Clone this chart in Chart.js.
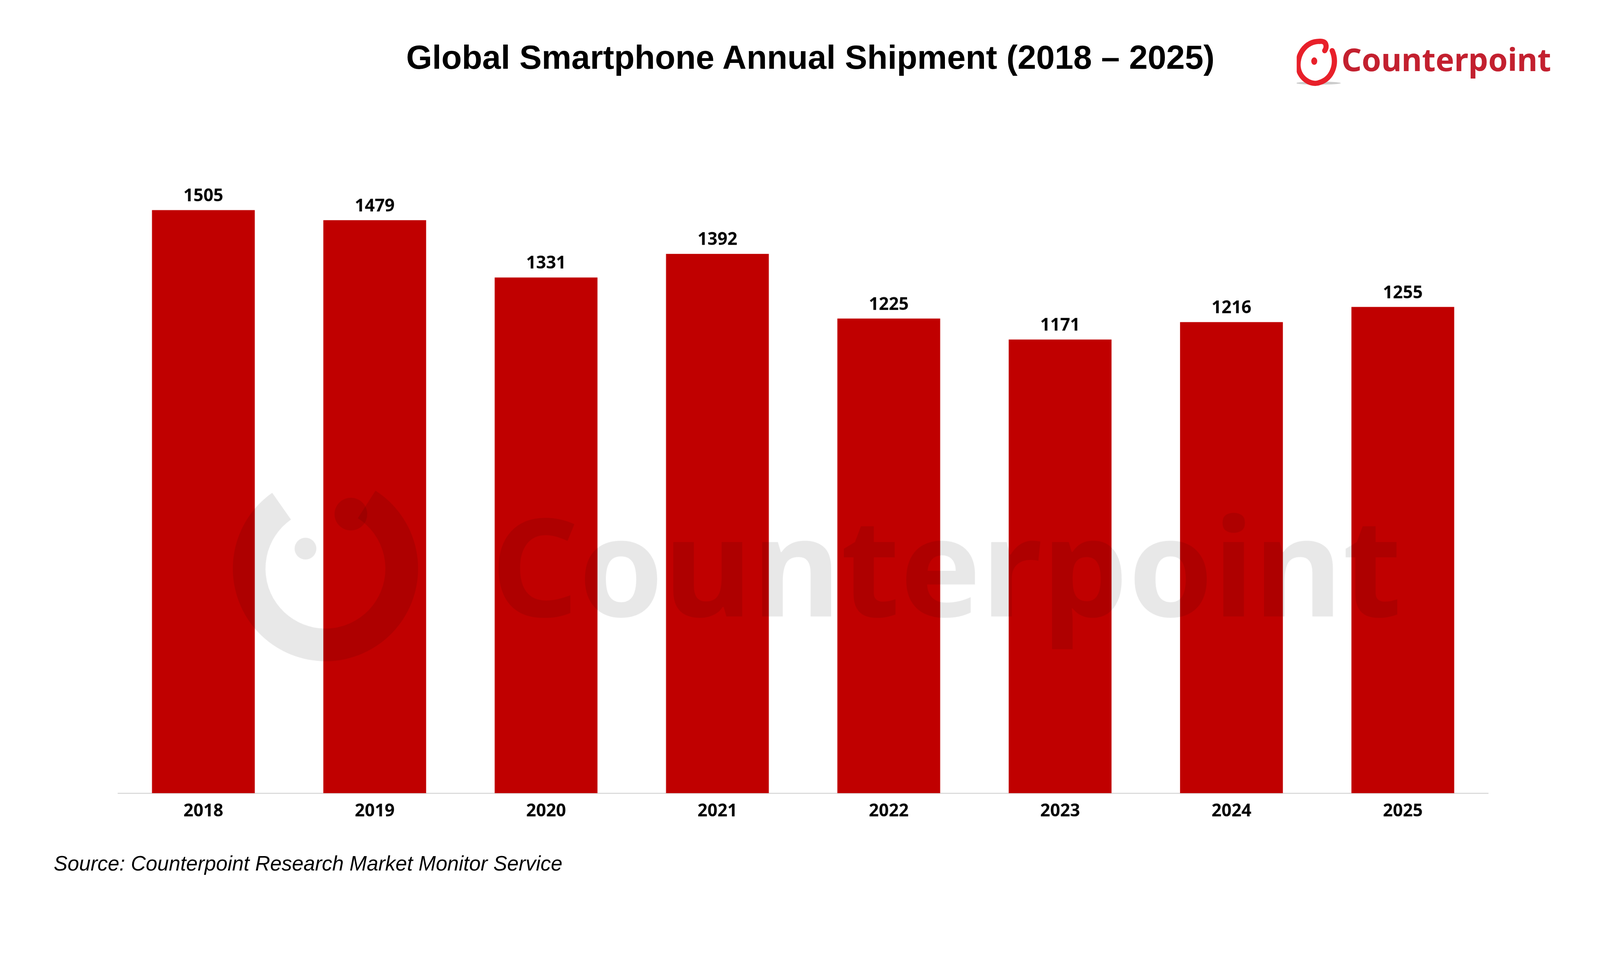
<!DOCTYPE html>
<html><head><meta charset="utf-8">
<script src="https://cdn.jsdelivr.net/npm/chart.js@4"></script>
<style>
html,body{margin:0;padding:0;background:#fff;overflow:hidden}
#stage{position:absolute;left:0;top:0;width:4405px;height:2480px;transform-origin:0 0;font-family:"Liberation Sans",Arial,sans-serif;background:#fff}
#title{position:absolute;left:0;width:4462px;top:105px;text-align:center;font-weight:bold;font-size:92px;color:#000;white-space:nowrap}
#src{position:absolute;left:148px;top:2343px;font-style:italic;font-size:57px;color:#000;white-space:nowrap}
#logo{position:absolute;left:3570px;top:80px;width:740px;height:160px}
#wrap{position:absolute;left:324px;top:400px;width:3774px;height:1883px}
</style></head><body>
<div id="stage">
<div id="title">Global Smartphone Annual Shipment (2018 – 2025)</div>
<svg id="logo" viewBox="0 0 720 150">
<ellipse cx="58" cy="142" rx="60" ry="4" fill="#ccc"/>
<path d="M62 30 C20 30 0 70 4 100 C8 130 40 150 62 140 C95 130 110 90 95 55" fill="none" stroke="#e8202a" stroke-width="14" stroke-linecap="round"/>
<path d="M62 30 C80 28 82 45 75 55" fill="none" stroke="#e8202a" stroke-width="14" stroke-linecap="round"/>
<ellipse cx="47" cy="83" rx="8" ry="10" fill="#e8202a"/>
<text x="120" y="110" font-family="Noto Sans, Open Sans, sans-serif" font-weight="bold" font-size="84" fill="#c3202f">Counterpoint</text>
</svg>
<div id="wrap"><canvas id="c"></canvas></div>
<div id="src">Source: Counterpoint Research Market Monitor Service</div>
</div>
<script>
const categories=["2018","2019","2020","2021","2022","2023","2024","2025"];
const shipments=[1505,1479,1331,1392,1225,1171,1216,1255];
function fit(){const s=Math.min(window.innerWidth/4405,window.innerHeight/2480);document.getElementById('stage').style.transform='scale('+s+')';}
fit();window.addEventListener('resize',fit);
const labelPlugin={id:'lbl',afterDatasetsDraw(ch){const ctx=ch.ctx;const m=ch.getDatasetMeta(0);ctx.save();ctx.font='bold 48px "Noto Sans", "Open Sans", sans-serif';ctx.fillStyle='#000';ctx.textAlign='center';ctx.textBaseline='bottom';m.data.forEach((b,i)=>{ctx.fillText(String(shipments[i]),b.x,b.y-14);});ctx.restore();},
afterDraw(ch){const ctx=ch.ctx;ctx.save();ctx.globalAlpha=0.09;ctx.fillStyle='#000';ctx.strokeStyle='#000';
ctx.lineWidth=90;ctx.beginPath();ctx.arc(896-324,1565-400,210,-1.0,4.1);ctx.stroke();
ctx.beginPath();ctx.arc(896-324+70,1565-400-150,45,0,7);ctx.fill();
ctx.beginPath();ctx.arc(896-324-55,1565-400-55,30,0,7);ctx.fill();
ctx.font='bold 375px "Noto Sans", sans-serif';ctx.textBaseline='middle';ctx.fillText('Counterpoint',1352-324,1590-400);ctx.restore();}};
new Chart(document.getElementById('c'),{type:'bar',
data:{labels:categories,datasets:[{data:shipments,backgroundColor:'#c00000',categoryPercentage:0.6,barPercentage:1}]},
options:{responsive:true,maintainAspectRatio:false,animation:false,devicePixelRatio:1,
layout:{padding:{top:77,left:0,right:0,bottom:0}},
plugins:{legend:{display:false},tooltip:{enabled:false}},
scales:{x:{grid:{display:false},border:{color:'#d9d9d9',width:3},ticks:{color:'#000',font:{family:'"Noto Sans", sans-serif',weight:'bold',size:48},padding:14},afterFit(s){s.height=100;}},
y:{display:false,min:0,max:1600}}},
plugins:[labelPlugin]});
</script></body></html>
